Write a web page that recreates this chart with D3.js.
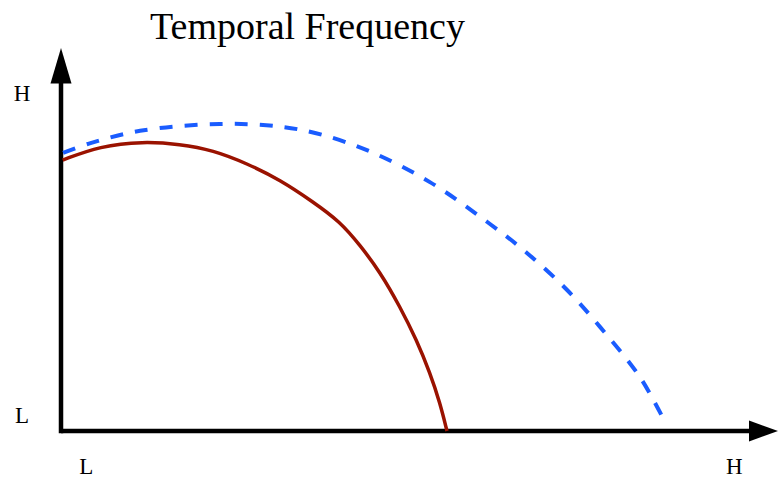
<!DOCTYPE html>
<html>
<head>
<meta charset="utf-8">
<script src="https://cdn.jsdelivr.net/npm/d3@7"></script>
<style>
  html, body { margin: 0; padding: 0; background: #fff; }
  svg { display: block; }
</style>
</head>
<body>
<svg id="chart" width="778" height="479"></svg>
<script>
// ---- data ----
const title = "Temporal Frequency";
const xTickLabels = ["L", "H"];
const xTickValues = [3.6, 96.2];
const yTickLabels = ["L", "H"];
const yTickValues = [4.2, 89];

const redX = [0.24, 5.57, 11.71, 17.0, 21.71, 26.57, 31.29, 36.0, 39.86, 42.71, 45.57, 48.43, 50.81, 52.71, 54.14, 55.14];
const redY = [71.3, 75.0, 76.2, 75.5, 73.9, 70.4, 66.1, 60.3, 55.1, 48.9, 41.9, 32.7, 23.9, 15.3, 7.4, 0];

const blueX = [0.3, 4.1, 11.3, 22.7, 31.3, 37.4, 44.6, 52.7, 60.9, 66.6, 72.3, 77.0, 82.7, 86.0];
const blueY = [73.2, 75.7, 79.0, 80.8, 80.1, 77.9, 73.2, 65.5, 55.0, 46.8, 37.1, 27.4, 14.2, 3.4];

// ---- drawing ----
const svg = d3.select("#chart");
const x = d3.scaleLinear().domain([0, 100]).range([61, 761]);
const y = d3.scaleLinear().domain([0, 100]).range([431, 51]);

const serif = "'Liberation Serif', 'Times New Roman', serif";

// title
svg.append("text")
  .attr("x", 307.5).attr("y", 39)
  .attr("text-anchor", "middle")
  .style("font-family", serif)
  .style("font-size", "38px")
  .attr("fill", "#000")
  .text(title);

// axes lines
const axisW = 4.5;
svg.append("line")
  .attr("x1", x(0)).attr("y1", y(0))
  .attr("x2", 752).attr("y2", y(0))
  .attr("stroke", "#000").attr("stroke-width", axisW);
svg.append("line")
  .attr("x1", x(0)).attr("y1", y(0) + axisW / 2)
  .attr("x2", x(0)).attr("y2", 80)
  .attr("stroke", "#000").attr("stroke-width", axisW);

// arrowheads
svg.append("path")
  .attr("d", `M${x(0)},48 L${x(0) + 10.5},83.5 L${x(0) - 10.5},83.5 Z`)
  .attr("fill", "#000");
svg.append("path")
  .attr("d", `M778,${y(0)} L749,${y(0) - 10.5} L749,${y(0) + 10.5} Z`)
  .attr("fill", "#000");

// tick labels
const lblStyle = sel => sel
  .style("font-family", serif)
  .style("font-size", "23px")
  .attr("fill", "#000");

svg.append("g").selectAll("text")
  .data(xTickLabels)
  .join("text")
  .attr("x", (d, i) => x(xTickValues[i]))
  .attr("y", 474)
  .attr("text-anchor", "middle")
  .call(lblStyle)
  .text(d => d);

svg.append("g").selectAll("text")
  .data(yTickLabels)
  .join("text")
  .attr("x", 22)
  .attr("y", (d, i) => y(yTickValues[i]) + 8)
  .attr("text-anchor", "middle")
  .call(lblStyle)
  .text(d => d);

// curves
const blueLine = d3.line()
  .x(d => x(d[0]))
  .y(d => y(d[1]))
  .curve(d3.curveCatmullRom.alpha(0.5));
const redLine = d3.line()
  .x(d => x(d[0]))
  .y(d => y(d[1]))
  .curve(d3.curveBasis);

const bluePts = blueX.map((v, i) => [v, blueY[i]]);
const redPts = redX.map((v, i) => [v, redY[i]]);

svg.append("path")
  .attr("d", blueLine(bluePts))
  .attr("fill", "none")
  .attr("stroke", "#1a5cff")
  .attr("stroke-width", 4)
  .attr("stroke-dasharray", "13,12");

svg.append("path")
  .attr("d", redLine(redPts))
  .attr("fill", "none")
  .attr("stroke", "#9a1200")
  .attr("stroke-width", 3.5);
</script>
</body>
</html>
